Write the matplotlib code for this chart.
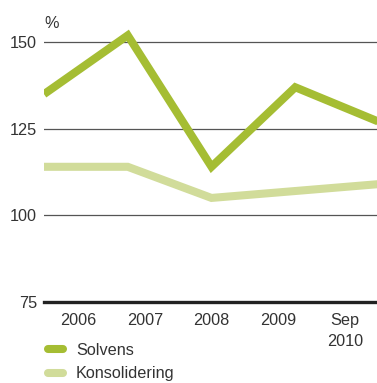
import matplotlib
matplotlib.use("Agg")
import matplotlib.pyplot as plt
from matplotlib.lines import Line2D

# Values (%)
periods = ["2006", "2007", "2008", "2009", "Sep\n2010"]
solvens = [135, 152, 114, 137, 127]
konsolidering = [114, 114, 105, 107, 109]
y_ticks = [75, 100, 125, 150]

C_SOLV = "#a5bd33"
C_KONS = "#d1dc9a"
C_TEXT = "#333333"
FS = 11.7

plt.rcParams["font.family"] = ["Liberation Sans", "DejaVu Sans"]

W, H = 377, 383
fig = plt.figure(figsize=(W / 100, H / 100), dpi=100)

# axes placed in pixel terms
x0_px, x1_px = 44, 377
y75_px = 301.7
px_per_unit = 3.459
ytop_val = 160
ytop_px = y75_px - (ytop_val - 75) * px_per_unit
ax = fig.add_axes([x0_px / W, (H - y75_px) / H, (x1_px - x0_px) / W, (y75_px - ytop_px) / H])

xs = list(range(len(periods)))
step_px = 83.75
ax.set_xlim(0, (x1_px - x0_px) / step_px)
ax.set_ylim(75, ytop_val)

for s in ax.spines.values():
    s.set_visible(False)

for v in y_ticks[1:]:
    ax.axhline(v, color="#555555", lw=0.9, zorder=1)
ax.axhline(75, color="#222222", lw=2.4, zorder=4, clip_on=False)

ax.plot(xs, konsolidering, color=C_KONS, lw=5.8, solid_joinstyle="miter",
        solid_capstyle="butt", zorder=2)
ax.plot(xs, solvens, color=C_SOLV, lw=5.8, solid_joinstyle="miter",
        solid_capstyle="butt", zorder=3)

ax.set_yticks(y_ticks)
ax.set_yticklabels([str(v) for v in y_ticks])
ax.tick_params(axis="y", length=0, pad=5, labelsize=FS, labelcolor=C_TEXT)

# category labels sit at their own even spacing below the baseline
label_px = [78 + 66.75 * i for i in range(len(periods))]
ax.set_xticks([(p - x0_px) / step_px for p in label_px])
ax.set_xticklabels(periods, linespacing=1.5)
ax.tick_params(axis="x", length=0, pad=8, labelsize=FS, labelcolor=C_TEXT)

ax.text(0, 150 + (42.3 - 23.5) / px_per_unit, "%", ha="left", va="center",
        fontsize=FS, color=C_TEXT, transform=ax.transData)

handles = [
    Line2D([], [], color=C_SOLV, lw=5.8, solid_capstyle="round"),
    Line2D([], [], color=C_KONS, lw=5.8, solid_capstyle="round"),
]
fig.legend(handles, ["Solvens", "Konsolidering"], loc="upper left",
           bbox_to_anchor=(48 / W, 1 - 343 / H), frameon=False,
           borderpad=0, borderaxespad=0, handlelength=0.92,
           handletextpad=0.8, labelspacing=0.52, fontsize=FS,
           labelcolor=C_TEXT)

fig.savefig("out.png", dpi=100)
